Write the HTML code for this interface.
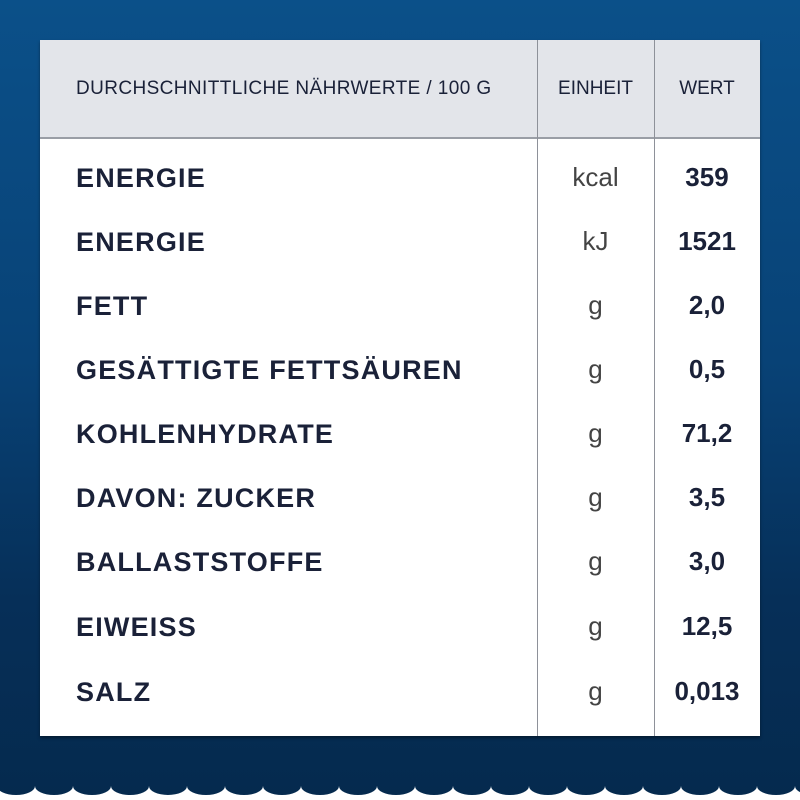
<!DOCTYPE html>
<html><head><meta charset="utf-8"><style>
body{margin:0;width:800px;height:800px;overflow:hidden;background:linear-gradient(180deg,#0b5089 0%,#084276 45%,#062f58 75%,#052a4e 100%);font-family:"Liberation Sans",sans-serif;position:relative}
.t{position:absolute;left:40px;top:40px;width:720px;height:696px;background:#fff;box-shadow:0 2px 3px rgba(0,0,0,.4)}
.h{position:absolute;left:0;top:0;width:720px;height:97px;background:#e3e5ea;border-bottom:2px solid #9a9ea6}
.v{position:absolute;top:0;width:1px;height:696px;background:#8e9199}
.tx{position:absolute;color:#1a2138;white-space:nowrap}
.hd{font-size:19px;top:38px;letter-spacing:0.4px}
.r{font-size:27px;font-weight:bold;letter-spacing:1.2px}
.u{font-size:26px;color:#444;width:117px;text-align:center;left:497px}
.w{font-size:26px;font-weight:bold;width:106px;text-align:center;left:614px}
</style></head><body>
<div class="t">
<div class="h"></div>
<div class="v" style="left:497px"></div>
<div class="v" style="left:614px"></div>
<div class="tx hd" style="left:36px">DURCHSCHNITTLICHE NÄHRWERTE / 100 G</div>
<div class="tx hd" style="left:497px;width:117px;text-align:center;letter-spacing:0">EINHEIT</div>
<div class="tx hd" style="left:614px;width:106px;text-align:center;letter-spacing:0">WERT</div>
<div class="tx r" style="left:36px;top:123px">ENERGIE</div><div class="tx u" style="top:122px">kcal</div><div class="tx w" style="top:122px">359</div>
<div class="tx r" style="left:36px;top:187px">ENERGIE</div><div class="tx u" style="top:186px">kJ</div><div class="tx w" style="top:186px">1521</div>
<div class="tx r" style="left:36px;top:251px">FETT</div><div class="tx u" style="top:250px">g</div><div class="tx w" style="top:250px">2,0</div>
<div class="tx r" style="left:36px;top:315px">GESÄTTIGTE FETTSÄUREN</div><div class="tx u" style="top:314px">g</div><div class="tx w" style="top:314px">0,5</div>
<div class="tx r" style="left:36px;top:379px">KOHLENHYDRATE</div><div class="tx u" style="top:378px">g</div><div class="tx w" style="top:378px">71,2</div>
<div class="tx r" style="left:36px;top:443px">DAVON: ZUCKER</div><div class="tx u" style="top:442px">g</div><div class="tx w" style="top:442px">3,5</div>
<div class="tx r" style="left:36px;top:507px">BALLASTSTOFFE</div><div class="tx u" style="top:506px">g</div><div class="tx w" style="top:506px">3,0</div>
<div class="tx r" style="left:36px;top:572px">EIWEISS</div><div class="tx u" style="top:571px">g</div><div class="tx w" style="top:571px">12,5</div>
<div class="tx r" style="left:36px;top:637px">SALZ</div><div class="tx u" style="top:636px">g</div><div class="tx w" style="top:636px">0,013</div>
</div>
<svg style="position:absolute;left:0;top:0" width="800" height="800">
<path fill="#fff" d="M-3,786 a19,9 0 0 0 38,0 a19,9 0 0 0 38,0 a19,9 0 0 0 38,0 a19,9 0 0 0 38,0 a19,9 0 0 0 38,0 a19,9 0 0 0 38,0 a19,9 0 0 0 38,0 a19,9 0 0 0 38,0 a19,9 0 0 0 38,0 a19,9 0 0 0 38,0 a19,9 0 0 0 38,0 a19,9 0 0 0 38,0 a19,9 0 0 0 38,0 a19,9 0 0 0 38,0 a19,9 0 0 0 38,0 a19,9 0 0 0 38,0 a19,9 0 0 0 38,0 a19,9 0 0 0 38,0 a19,9 0 0 0 38,0 a19,9 0 0 0 38,0 a19,9 0 0 0 38,0 a19,9 0 0 0 38,0 L833,800 L-3,800 Z"/>
</svg>
</body></html>
